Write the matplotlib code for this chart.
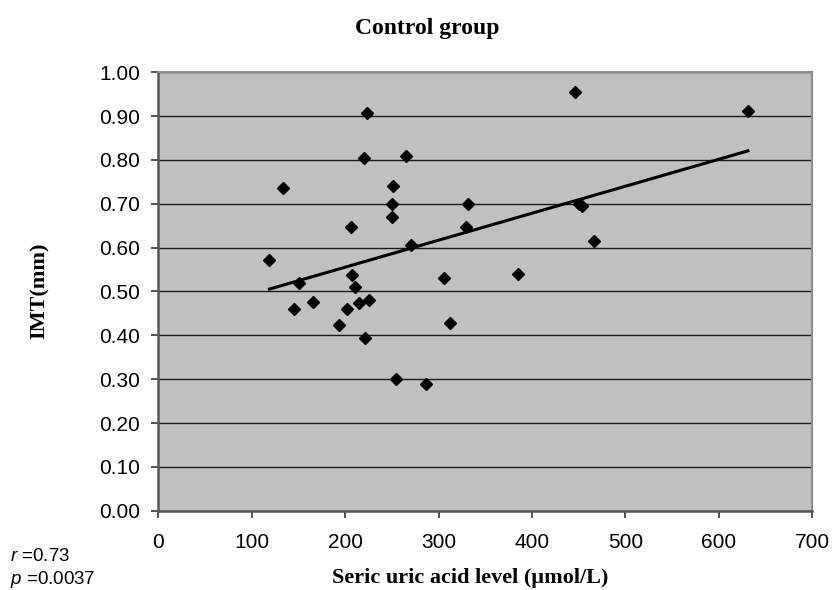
import numpy as np
import matplotlib
matplotlib.use("Agg")
import matplotlib.pyplot as plt

# serum uric acid (umol/L) and IMT (mm)
uric_acid = [119, 134, 151, 145, 166, 193, 202, 206, 207, 211, 215, 226, 221,
             223, 220, 265, 251, 250, 250, 254, 287, 271, 306, 312, 331, 329,
             385, 446, 631, 450, 454, 466]
imt = [0.571, 0.735, 0.520, 0.460, 0.475, 0.423, 0.461, 0.648, 0.537, 0.511,
       0.473, 0.480, 0.395, 0.908, 0.804, 0.808, 0.741, 0.700, 0.671, 0.300,
       0.290, 0.605, 0.531, 0.428, 0.700, 0.648, 0.539, 0.954, 0.911, 0.700,
       0.695, 0.615]

r_text = "=0.73"
p_text = "=0.0037"

plt.rcParams['mathtext.fontset'] = 'custom'
plt.rcParams['mathtext.it'] = 'Liberation Sans:italic'
plt.rcParams['mathtext.rm'] = 'Liberation Sans'

fig = plt.figure(figsize=(8.35, 5.9), dpi=100)
ax = fig.add_axes([0.18958, 0.13441, 0.78323, 0.74305])
ax.set_facecolor('#c0c0c0')

ax.set_xlim(0, 700)
ax.set_ylim(0, 1.0)
ax.set_xticks(np.arange(0, 701, 100))
ax.set_yticks(np.arange(0, 1.01, 0.1))
ax.set_yticklabels([f"{v:.2f}" for v in np.arange(0, 1.01, 0.1)])
ax.yaxis.grid(True, color='#1a1a1a', linewidth=1.0)
ax.set_axisbelow(True)

# linear trend line over the data range
x = np.array(uric_acid, dtype=float)
y = np.array(imt)
slope, intercept = np.polyfit(x, y, 1)
xs = np.array([x.min(), x.max()])
ax.plot(xs, slope * xs + intercept, color='black', linewidth=2.2, zorder=3)

ax.plot(x, y, linestyle='none', marker='D', markersize=6.5,
        color='black', zorder=4)

for side in ['left', 'bottom']:
    ax.spines[side].set_color('#555555')
    ax.spines[side].set_linewidth(1.8)
for side in ['top', 'right']:
    ax.spines[side].set_color('#8c8c8c')
    ax.spines[side].set_linewidth(1.5)

ax.tick_params(axis='both', direction='out', length=5, width=1.2,
               color='#333333', labelsize=15, labelcolor='black')
ax.tick_params(axis='y', pad=8)
ax.tick_params(axis='x', pad=11)
for lab in ax.get_xticklabels() + ax.get_yticklabels():
    lab.set_family('Liberation Sans')

fig.text(427 / 835, 1 - 34 / 590, "Control group", ha='center', va='baseline',
         family='Liberation Serif', fontweight='bold', fontsize=17)
fig.text(470 / 835, 1 - 583 / 590, "Seric uric acid level (\u00b5mol/L)",
         ha='center', va='baseline', family='Liberation Serif',
         fontweight='bold', fontsize=16)
fig.text(40 / 835, 1 - 291 / 590, "IMT(mm)", ha='center', va='center',
         rotation=90, family='Liberation Serif', fontweight='bold', fontsize=16)

fig.text(10 / 835, 1 - 561 / 590, r"$r$ " + r_text, ha='left', va='baseline',
         family='Liberation Sans', fontsize=13.5)
fig.text(10 / 835, 1 - 584 / 590, r"$p$ " + p_text, ha='left', va='baseline',
         family='Liberation Sans', fontsize=13.5)

fig.savefig("out.png", dpi=100)
